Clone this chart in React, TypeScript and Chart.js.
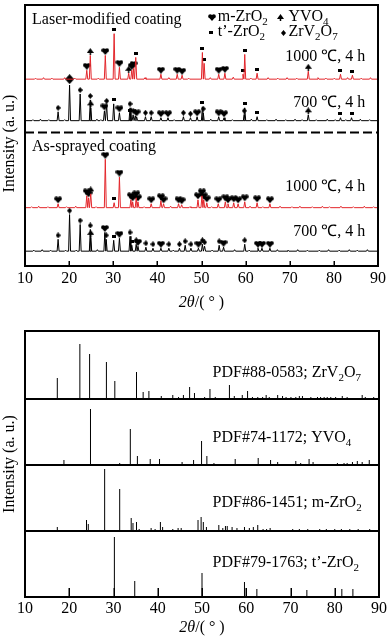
import React, { useEffect, useRef } from 'react';
import { Chart, registerables } from 'chart.js';

Chart.register(...registerables);

const FONT = '"Liberation Serif", "Times New Roman", serif';
const RED = '#e3262b';
const X_TICKS = [10, 20, 30, 40, 50, 60, 70, 80, 90];

// ---------- upper chart: offsets of the stacked patterns ----------
const BASE_LM_1000 = 189;
const BASE_LM_700 = 147;
const SEPARATOR_Y = 135;
const BASE_AS_1000 = 59;
const BASE_AS_700 = 15;

// peaks: [2theta, height, phase]  phase: m = m-ZrO2, t = t'-ZrO2, y = YVO4, z = ZrV2O7, Z = big ZrV2O7
const LM1000_PEAKS: [number, number, string][] = [
  [24.0, 9, 'm'], [24.8, 24, 'y'], [28.2, 24, 'm'], [30.2, 46, 't'], [31.4, 12, 'm'],
  [33.5, 6, 'y'], [34.2, 9, 'm'], [34.6, 11, 'm'], [35.1, 22, 't'], [40.8, 5, 'm'],
  [44.5, 5, 'm'], [45.6, 4, 'm'], [50.2, 27, 't'], [50.6, 16, 't'], [53.9, 5, 'm'],
  [55.3, 6, 'm'], [59.4, 5, 't'], [59.8, 25, 't'], [62.6, 6, 't'], [74.2, 8, 'y'],
  [81.5, 5, 't'], [84.2, 4, 't'],
];
const LM700_PEAKS: [number, number, string][] = [
  [17.5, 9, 'z'], [20.1, 36, 'Z'], [22.5, 27, 'z'], [24.8, 21, 'z'], [24.9, 13, 'y'],
  [28.0, 10, 'm'], [28.5, 16, 'z'], [30.1, 17, 't'], [31.4, 8, 'm'], [33.8, 13, 'z'],
  [33.9, 6, 't'], [34.5, 6, 'z'], [35.0, 5, 'z'], [35.3, 4, 'm'], [37.3, 4, 'z'],
  [38.6, 4, 'z'], [40.8, 3, 'm'], [42.4, 3, 'm'], [45.9, 4, 'z'], [47.5, 3, 'z'],
  [49.0, 4, 'm'], [50.2, 14, 't'], [50.4, 8, 'z'], [53.9, 4, 'm'], [55.1, 3, 'm'],
  [59.7, 6, 'z'], [59.8, 13, 't'], [62.6, 4, 't'], [74.2, 6, 'y'], [81.5, 3, 't'],
  [84.0, 3, 't'],
];
const AS1000_PEAKS: [number, number, string][] = [
  [17.5, 4, 'm'], [24.0, 12, 'm'], [24.4, 10, 'm'], [24.9, 14, 'y'], [28.2, 49, 'm'],
  [30.2, 5, 't'], [31.4, 31, 'm'], [34.0, 8, 'm'], [34.4, 6, 'm'], [35.2, 10, 'm'],
  [35.6, 6, 'm'], [38.6, 4, 'm'], [40.8, 7, 'm'], [41.4, 4, 'm'], [44.8, 4, 'm'],
  [45.5, 3, 'm'], [49.2, 8, 'm'], [50.1, 12, 'm'], [50.5, 8, 'm'], [51.2, 5, 'm'],
  [53.8, 4, 'm'], [55.4, 6, 'm'], [56.0, 4, 'm'], [57.3, 5, 'm'], [58.3, 4, 'm'],
  [59.8, 6, 'm'], [62.6, 5, 'm'], [65.5, 4, 'm'],
];
const AS700_PEAKS: [number, number, string][] = [
  [17.5, 12, 'z'], [20.1, 37, 'z'], [22.5, 27, 'z'], [24.8, 22, 'z'], [24.9, 14, 'y'],
  [28.1, 19, 'm'], [28.4, 12, 'z'], [30.1, 11, 't'], [31.4, 13, 'm'], [33.8, 15, 'z'],
  [34.2, 6, 't'], [35.2, 7, 'z'], [35.6, 5, 'm'], [37.4, 4, 'z'], [39.0, 3, 'z'],
  [40.8, 3, 'm'], [42.6, 3, 'z'], [45.0, 3, 'z'], [46.3, 6, 'z'], [47.6, 3, 'z'],
  [49.3, 3, 'm'], [50.2, 7, 'z'], [50.7, 5, 'z'], [54.0, 6, 'z'], [55.0, 4, 'm'],
  [59.8, 7, 'z'], [62.8, 3, 'm'], [63.7, 3, 'm'], [65.5, 3, 'm'],
];

// small baseline wiggles: [2theta, height]
const LM1000_NOISE: [number, number][] = [
  [12.4, 1], [14.2, 1.5], [16.1, 1], [19.0, 1.5], [21.3, 1], [26.6, 1], [37.2, 1.5],
  [42.6, 1.5], [47.1, 1], [52.0, 1.5], [57.2, 2], [61.2, 1], [65.1, 1.5], [67.3, 1],
  [69.4, 1.5], [71.6, 1], [76.4, 1.5], [78.2, 1], [80.1, 1], [83.1, 1.5], [86.2, 1], [88.3, 1.5],
];
const LM700_NOISE: [number, number][] = [
  [11.8, 1], [13.5, 1.5], [15.4, 1], [19.0, 1], [26.3, 1.5], [27.2, 1], [43.8, 1],
  [52.1, 1.5], [57.0, 1], [61.3, 1.5], [64.8, 1], [66.9, 1.5], [69.1, 1], [71.2, 1.5],
  [72.8, 1], [76.0, 1], [78.5, 1.5], [80.3, 1], [82.7, 1], [86.0, 1.5], [88.1, 1],
];
const AS1000_NOISE: [number, number][] = [
  [11.5, 1], [13.1, 1.5], [15.2, 1], [19.4, 1], [21.5, 1.5], [26.1, 1], [37.0, 1],
  [43.0, 1.5], [47.4, 1], [52.3, 1], [61.0, 1.5], [63.9, 1], [67.8, 1.5], [70.5, 1],
  [72.3, 1.5], [75.1, 1], [77.4, 1.5], [79.0, 1], [81.6, 1.5], [84.4, 1], [86.9, 1.5], [89.0, 1],
];
const AS700_NOISE: [number, number][] = [
  [12.0, 1], [13.9, 1.5], [15.8, 1], [19.2, 1], [21.6, 1], [26.4, 1.5], [43.6, 1],
  [52.4, 1], [57.5, 1.5], [60.8, 1], [67.2, 1.5], [69.6, 1], [71.8, 1.5], [74.0, 1],
  [76.7, 1], [78.8, 1.5], [81.2, 1], [83.5, 1.5], [85.3, 1], [87.6, 1.5],
];

// ---------- lower chart: standard stick patterns [2theta, height] ----------
const PANEL_BASE_ZRV2O7 = 198;
const PANEL_BASE_YVO4 = 132;
const PANEL_BASE_MZRO2 = 66;
const PANEL_BASE_TZRO2 = 0;

const ZRV2O7_STICKS: [number, number][] = [
  [17.3, 21], [22.4, 55], [24.6, 45], [28.4, 37], [30.3, 18], [33.5, 1], [35.2, 27],
  [36.7, 7], [38.0, 8], [40.8, 3], [43.4, 4], [44.7, 2], [45.8, 4], [47.2, 12], [48.3, 6],
  [50.6, 2], [51.8, 10], [53.0, 2], [53.9, 1], [56.2, 14], [57.3, 3], [59.1, 4], [60.3, 8],
  [61.4, 2], [62.6, 2], [63.7, 2], [64.5, 4], [65.2, 2], [67.1, 4], [68.2, 3], [69.0, 2],
  [70.1, 2], [71.2, 2], [72.0, 3], [72.7, 3], [74.6, 2], [75.4, 1], [76.1, 2], [76.8, 2],
  [77.6, 2], [78.3, 2], [79.1, 2], [80.2, 2], [81.7, 3], [82.8, 2], [84.3, 1], [86.2, 4],
  [86.9, 2], [88.8, 2],
];
const YVO4_STICKS: [number, number][] = [
  [18.8, 5], [24.8, 56], [31.4, 2], [33.8, 36], [35.4, 9], [38.3, 6], [40.4, 6],
  [45.5, 3], [48.1, 5], [49.9, 24], [51.1, 9], [52.7, 2], [54.7, 1], [57.5, 6], [59.1, 1],
  [62.7, 7], [65.5, 5], [67.1, 3], [71.2, 4], [72.3, 2], [74.2, 6], [75.1, 3], [78.3, 1],
  [80.6, 2], [82.1, 2], [82.8, 2], [84.0, 3], [85.1, 4], [86.2, 3], [87.8, 5],
];
const MZRO2_STICKS: [number, number][] = [
  [17.3, 4], [23.9, 11], [24.3, 7], [28.0, 62], [31.4, 42], [34.0, 13], [34.4, 8],
  [35.2, 9], [35.8, 2], [38.5, 3], [39.4, 2], [40.6, 9], [41.1, 4], [43.4, 2], [44.6, 3],
  [45.3, 3], [49.1, 11], [49.8, 14], [50.3, 9], [51.0, 4], [53.8, 6], [54.7, 3], [55.3, 5],
  [55.7, 5], [56.8, 4], [57.9, 3], [59.6, 4], [60.7, 3], [61.6, 4], [62.6, 6], [63.8, 2],
  [64.6, 2], [65.4, 3], [69.0, 1], [69.8, 1], [70.5, 2], [71.2, 1], [72.0, 2], [73.2, 1],
  [73.9, 2], [75.0, 1], [76.6, 2], [77.3, 1], [78.1, 2], [79.2, 1], [80.0, 2], [80.8, 1],
  [81.5, 2], [82.7, 1], [83.4, 2], [84.2, 1], [85.3, 2], [86.4, 1], [87.9, 2], [89.4, 1],
];
const TZRO2_STICKS: [number, number][] = [
  [30.2, 60], [34.8, 16], [50.0, 24], [59.6, 15], [62.4, 8], [73.7, 7], [81.6, 8], [84.1, 8],
];

type Pt = { x: number; y: number | null };

function buildTrace(base: number, peaks: [number, number, string][], noise: [number, number][]): Pt[] {
  const all: [number, number][] = [...peaks.map((p) => [p[0], p[1]] as [number, number]), ...noise];
  all.sort((a, b) => a[0] - b[0]);
  const pts: Pt[] = [{ x: 10, y: base }];
  for (const [x, h] of all) {
    pts.push({ x: x - 0.22, y: base }, { x, y: base + h }, { x: x + 0.22, y: base });
  }
  pts.push({ x: 90, y: base });
  return pts;
}

function buildMarkers(phase: string, traces: [number, [number, number, string][]][]): Pt[] {
  const out: Pt[] = [];
  for (const [base, peaks] of traces) {
    for (const [x, h, p] of peaks) {
      if (p === phase) out.push({ x, y: base + h + (p === 'Z' ? 6 : 4) });
    }
  }
  return out;
}

function buildSticks(base: number, sticks: [number, number][]): Pt[] {
  const out: Pt[] = [];
  for (const [x, h] of sticks) {
    out.push({ x, y: base }, { x, y: base + h }, { x, y: null });
  }
  return out;
}

function makeIcon(w: number, h: number, draw: (c: CanvasRenderingContext2D, w: number, h: number) => void) {
  const c = document.createElement('canvas');
  c.width = w;
  c.height = h;
  const ctx = c.getContext('2d')!;
  ctx.fillStyle = '#000';
  draw(ctx, w, h);
  return c;
}

function makeIcons() {
  const heart = makeIcon(8, 7, (c, w, h) => {
    c.beginPath();
    c.arc(w * 0.28, h * 0.32, w * 0.26, 0, Math.PI * 2);
    c.moveTo(w * 0.98, h * 0.32);
    c.arc(w * 0.72, h * 0.32, w * 0.26, 0, Math.PI * 2);
    c.fill();
    c.beginPath();
    c.moveTo(0.3, h * 0.38);
    c.lineTo(w - 0.3, h * 0.38);
    c.lineTo(w / 2, h);
    c.closePath();
    c.fill();
  });
  const tri = makeIcon(7, 7, (c, w, h) => {
    c.beginPath();
    c.moveTo(w / 2, 0);
    c.lineTo(w, h * 0.72);
    c.lineTo(0, h * 0.72);
    c.closePath();
    c.fill();
    c.fillRect(w / 2 - 0.75, h * 0.5, 1.5, h * 0.5);
  });
  const rect = makeIcon(4, 3, (c, w, h) => {
    c.fillRect(0, 0, w, h);
  });
  const diamond = makeIcon(5, 6, (c, w, h) => {
    c.beginPath();
    c.moveTo(w / 2, 0);
    c.lineTo(w, h / 2);
    c.lineTo(w / 2, h);
    c.lineTo(0, h / 2);
    c.closePath();
    c.fill();
  });
  const bigDiamond = makeIcon(9, 10, (c, w, h) => {
    c.beginPath();
    c.moveTo(w / 2, 0);
    c.lineTo(w, h / 2);
    c.lineTo(w / 2, h);
    c.lineTo(0, h / 2);
    c.closePath();
    c.fill();
  });
  return { heart, tri, rect, diamond, bigDiamond };
}

// segment: [text, subscript, italic]
type Seg = [string, boolean, boolean?];

function drawRich(
  ctx: CanvasRenderingContext2D,
  segs: Seg[],
  x: number,
  y: number,
  size: number,
  align: 'left' | 'right' | 'center',
  baseline: CanvasTextBaseline = 'alphabetic'
) {
  const fontFor = (s: Seg) => `${s[2] ? 'italic ' : ''}${s[1] ? Math.round(size * 0.68) : size}px ${FONT}`;
  let total = 0;
  for (const s of segs) {
    ctx.font = fontFor(s);
    total += ctx.measureText(s[0]).width;
  }
  let cx = align === 'right' ? x - total : align === 'center' ? x - total / 2 : x;
  ctx.textAlign = 'left';
  ctx.textBaseline = baseline;
  ctx.fillStyle = '#000';
  for (const s of segs) {
    ctx.font = fontFor(s);
    ctx.fillText(s[0], cx, s[1] ? y + size * 0.25 : y);
    cx += ctx.measureText(s[0]).width;
  }
}

function drawFrame(chart: any, tickLen: number, titleY: number) {
  const { ctx, chartArea } = chart;
  const xs = chart.scales.x;
  const l = Math.round(chartArea.left);
  const r = Math.round(chartArea.right);
  const t = Math.round(chartArea.top);
  const b = Math.round(chartArea.bottom);
  ctx.save();
  ctx.strokeStyle = '#000';
  ctx.lineWidth = 2;
  ctx.strokeRect(l, t, r - l, b - t);
  ctx.lineWidth = 1.5;
  ctx.beginPath();
  for (const v of X_TICKS.slice(1, -1)) {
    const px = Math.round(xs.getPixelForValue(v)) + 0.25;
    ctx.moveTo(px, b);
    ctx.lineTo(px, b - tickLen);
  }
  ctx.stroke();
  // x-axis title: italic 2θ, upright rest
  drawRich(
    ctx,
    [
      ['2θ', false, true],
      ['/( ° )', false, false],
    ],
    (chartArea.left + chartArea.right) / 2,
    titleY,
    SIZE,
    'center',
    'middle'
  );
  ctx.restore();
}

const SIZE = 16;

export default function App() {
  const topRef = useRef<HTMLCanvasElement>(null);
  const botRef = useRef<HTMLCanvasElement>(null);

  useEffect(() => {
    const icons = makeIcons();
    Chart.defaults.font.family = FONT;
    Chart.defaults.color = '#000';

    const xScale = (labelPad: number, height: number) => ({
      type: 'linear',
      min: 10,
      max: 90,
      afterBuildTicks: (s: any) => {
        s.ticks = X_TICKS.map((v) => ({ value: v }));
      },
      ticks: { font: { size: SIZE, family: FONT }, color: '#000', padding: labelPad, maxRotation: 0, autoSkip: false },
      grid: { display: false, drawTicks: false },
      border: { display: false },
      title: { display: false },
      afterFit: (s: any) => {
        s.height = height;
      },
    });

    const topTraces: [number, [number, number, string][]][] = [
      [BASE_LM_1000, LM1000_PEAKS],
      [BASE_LM_700, LM700_PEAKS],
      [BASE_AS_1000, AS1000_PEAKS],
      [BASE_AS_700, AS700_PEAKS],
    ];

    const lineDs = (data: Pt[], color: string, extra: any = {}) => ({
      type: 'line',
      data,
      borderColor: color,
      borderWidth: 1,
      pointRadius: 0,
      tension: 0,
      fill: false,
      spanGaps: false,
      ...extra,
    });
    const markerDs = (phase: string, icon: HTMLCanvasElement) => ({
      type: 'scatter',
      data: buildMarkers(phase, topTraces),
      pointStyle: icon,
      pointRadius: 3,
      showLine: false,
      borderColor: '#000',
      backgroundColor: '#000',
    });

    const topPlugin = {
      id: 'topDecor',
      afterDraw(chart: any) {
        drawFrame(chart, 5, chart.height - 15);
        const { ctx } = chart;
        const xs = chart.scales.x;
        const ys = chart.scales.y;
        const X = (v: number) => xs.getPixelForValue(v);
        const Y = (v: number) => ys.getPixelForValue(v);
        ctx.save();
        drawRich(ctx, [['Laser-modified coating', false]], X(11.6), Y(245), SIZE, 'left');
        drawRich(ctx, [['As-sprayed coating', false]], X(11.6), Y(116), SIZE, 'left');
        drawRich(ctx, [['1000 ℃, 4 h', false]], X(87.1), Y(207), SIZE, 'right');
        drawRich(ctx, [['700 ℃, 4 h', false]], X(87.1), Y(161), SIZE, 'right');
        drawRich(ctx, [['1000 ℃, 4 h', false]], X(87.1), Y(76), SIZE, 'right');
        drawRich(ctx, [['700 ℃, 4 h', false]], X(87.1), Y(30), SIZE, 'right');
        // legend
        const icon = (img: HTMLCanvasElement, xv: number, yv: number) =>
          ctx.drawImage(img, Math.round(X(xv) - img.width / 2), Math.round(Y(yv) - img.height / 2));
        icon(icons.heart, 52.3, 251);
        drawRich(ctx, [['m-ZrO', false], ['2', true]], X(53.7), Y(248), SIZE, 'left');
        icon(icons.tri, 67.9, 251);
        drawRich(ctx, [['YVO', false], ['4', true]], X(69.7), Y(248), SIZE, 'left');
        icon(icons.rect, 52.1, 236);
        drawRich(ctx, [['t’-ZrO', false], ['2', true]], X(53.7), Y(233), SIZE, 'left');
        icon(icons.diamond, 68.6, 236);
        drawRich(ctx, [['ZrV', false], ['2', true], ['O', false], ['7', true]], X(69.7), Y(233), SIZE, 'left');
        ctx.restore();
      },
    };

    const top = new Chart(topRef.current!, {
      type: 'scatter',
      data: {
        datasets: [
          lineDs(buildTrace(BASE_LM_1000, LM1000_PEAKS, LM1000_NOISE), RED),
          lineDs(buildTrace(BASE_LM_700, LM700_PEAKS, LM700_NOISE), '#000'),
          lineDs(buildTrace(BASE_AS_1000, AS1000_PEAKS, AS1000_NOISE), RED),
          lineDs(buildTrace(BASE_AS_700, AS700_PEAKS, AS700_NOISE), '#000'),
          lineDs(
            [
              { x: 10, y: SEPARATOR_Y },
              { x: 90, y: SEPARATOR_Y },
            ],
            '#000',
            { borderWidth: 2, borderDash: [9, 4] }
          ),
          markerDs('m', icons.heart),
          markerDs('t', icons.rect),
          markerDs('y', icons.tri),
          markerDs('z', icons.diamond),
          markerDs('Z', icons.bigDiamond),
        ] as any,
      },
      options: {
        animation: false,
        responsive: true,
        maintainAspectRatio: false,
        layout: { padding: { left: 0, right: 9, top: 2, bottom: 0 } },
        plugins: { legend: { display: false }, tooltip: { enabled: false } },
        scales: {
          x: xScale(3, 52) as any,
          y: {
            type: 'linear',
            min: 0,
            max: 264,
            ticks: { display: false },
            grid: { display: false, drawTicks: false },
            border: { display: false },
            title: {
              display: true,
              text: 'Intensity (a. u.)    ',
              font: { size: SIZE, family: FONT },
              color: '#000',
              padding: { top: 0, bottom: 0 },
            },
            afterFit: (s: any) => {
              s.width = 25;
            },
          },
        },
      },
      plugins: [topPlugin],
    } as any);

    const botPlugin = {
      id: 'botDecor',
      afterDraw(chart: any) {
        drawFrame(chart, 9, chart.height - 10);
        const { ctx } = chart;
        const xs = chart.scales.x;
        const ys = chart.scales.y;
        const X = (v: number) => xs.getPixelForValue(v);
        const Y = (v: number) => ys.getPixelForValue(v);
        ctx.save();
        drawRich(ctx, [['PDF#88-0583; ZrV', false], ['2', true], ['O', false], ['7', true]], X(52.4), Y(220), SIZE, 'left');
        drawRich(ctx, [['PDF#74-1172; YVO', false], ['4', true]], X(52.4), Y(155), SIZE, 'left');
        drawRich(ctx, [['PDF#86-1451; m-ZrO', false], ['2', true]], X(52.4), Y(90), SIZE, 'left');
        drawRich(ctx, [['PDF#79-1763; t’-ZrO', false], ['2', true]], X(52.4), Y(30), SIZE, 'left');
        ctx.restore();
      },
    };

    const bot = new Chart(botRef.current!, {
      type: 'scatter',
      data: {
        datasets: [
          lineDs(buildSticks(PANEL_BASE_ZRV2O7, ZRV2O7_STICKS), '#000', { showLine: true }),
          lineDs(buildSticks(PANEL_BASE_YVO4, YVO4_STICKS), '#000', { showLine: true }),
          lineDs(buildSticks(PANEL_BASE_MZRO2, MZRO2_STICKS), '#000', { showLine: true }),
          lineDs(buildSticks(PANEL_BASE_TZRO2, TZRO2_STICKS), '#000', { showLine: true }),
        ] as any,
      },
      options: {
        animation: false,
        responsive: true,
        maintainAspectRatio: false,
        layout: { padding: { left: 0, right: 9, top: 13, bottom: 0 } },
        plugins: { legend: { display: false }, tooltip: { enabled: false } },
        scales: {
          x: xScale(2, 41) as any,
          y: {
            type: 'linear',
            min: 0,
            max: 266,
            afterBuildTicks: (s: any) => {
              s.ticks = [PANEL_BASE_MZRO2, PANEL_BASE_YVO4, PANEL_BASE_ZRV2O7].map((v) => ({ value: v }));
            },
            ticks: { display: false },
            grid: { display: true, drawTicks: false, color: '#000', lineWidth: 2 },
            border: { display: false },
            title: {
              display: true,
              text: 'Intensity (a. u.)',
              font: { size: SIZE, family: FONT },
              color: '#000',
              padding: { top: 0, bottom: 0 },
            },
            afterFit: (s: any) => {
              s.width = 25;
            },
          },
        },
      },
      plugins: [botPlugin],
    } as any);

    return () => {
      top.destroy();
      bot.destroy();
    };
  }, []);

  return (
    <div style={{ position: 'fixed', left: 0, top: 0, width: 389, height: 638, background: '#fff' }}>
      <div style={{ position: 'absolute', left: 0, top: 0, width: 389, height: 318 }}>
        <canvas ref={topRef} />
      </div>
      <div style={{ position: 'absolute', left: 0, top: 318, width: 389, height: 320 }}>
        <canvas ref={botRef} />
      </div>
    </div>
  );
}
